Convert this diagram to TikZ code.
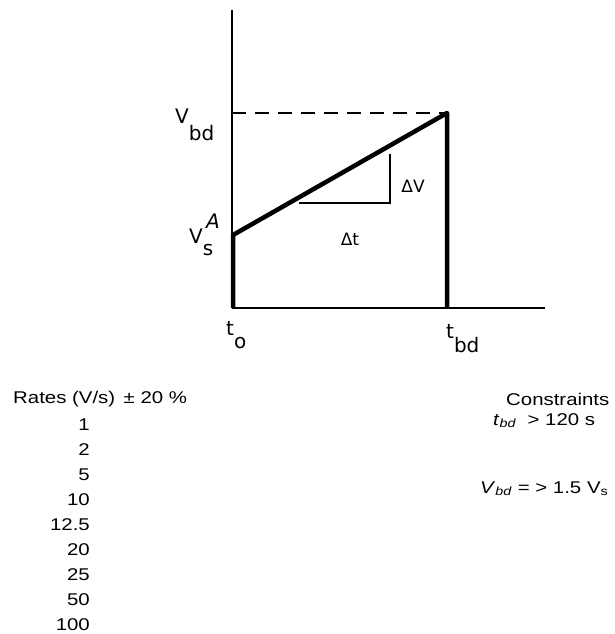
\documentclass[tikz,border=0pt]{standalone}
\usepackage{fontspec}
\setmainfont{Liberation Sans}
\newfontfamily\handfont{DejaVu Sans}
\newfontfamily\listfont[FakeStretch=1.2]{Liberation Sans}
\usetikzlibrary{positioning}
\tikzset{
  hand/.style={anchor=base west,inner sep=0pt,font=\handfont\fontsize{20}{20}\selectfont},
  listtext/.style={inner sep=0pt,font=\listfont\fontsize{17}{20}\selectfont}
}

\begin{document}
\begin{tikzpicture}[x=1pt,y=-1pt]
      \useasboundingbox (0,0) rectangle (615,634);
      % points of the ramp
      \coordinate (O) at (233,308);
      \coordinate (ytop) at (232,10);
      \coordinate (xorig) at (232,308);
      \coordinate (xend) at (545,308);
      \coordinate (Vs) at (233,235);
      \coordinate (Vbd) at (447,113);
      \coordinate (tbd) at (447,308);
      \coordinate (Vbdaxis) at (232,113);
      \coordinate (dtl) at (299,203);
      \coordinate (dtr) at (390,203);
      \coordinate (dvt) at (390,154);
      \draw[line width=1.5pt] (ytop)--(xorig);
      \draw[line width=2.2pt] (xorig)--(xend);
      \draw[line width=2pt,dash pattern=on 14pt off 9pt] (Vbdaxis)--(Vbd);
      \draw[line width=4.5pt,line join=round] (O)--(Vs)--(Vbd)--(tbd);
      \draw[line width=1.2pt] (dtl)--(dtr)--(dvt);
      \node[hand] (lvbd) at (175,123) {V\raisebox{-17pt}{bd}};
      \node[hand] (lvs) at (189,243) {V\raisebox{-12pt}{s}};
      \node[hand,font=\handfont\itshape\fontsize{20}{20}\selectfont] (la) at (206,228) {A};
      \node[hand] (lto) at (226,335) {t\raisebox{-13pt}{o}};
      \node[hand] (ltbd) at (446,338) {t\raisebox{-14pt}{bd}};
      \node[font=\handfont\fontsize{17}{17}\selectfont,inner sep=0pt] (ldv) at (413,186) {ΔV};
      \node[font=\handfont\fontsize{17}{17}\selectfont,inner sep=0pt] (ldt) at (350,239) {Δt};
      % rates and constraints
      \node[listtext,anchor=base west] (rates) at (13,403) {Rates (V/s)\ \,± 20 \%};
      \foreach \r [count=\i from 0] in {1,2,5,10,12.5,20,25,50,100}
        \node[listtext,anchor=base east] (rate\i) at (90,430+25*\i) {\r};
      \node[listtext,anchor=base west] (constr) at (506,405) {Constraints};
      \node[listtext,anchor=base west] (ctbd) at (493,425) {\textit{t}\textsubscript{\textit{bd}}\ \ > 120 s};
      \node[listtext,anchor=base west] (cvbd) at (480,493) {\textit{V}\textsubscript{\textit{bd}} = > 1.5 V\textsubscript{s}};
    \end{tikzpicture}
\end{document}
